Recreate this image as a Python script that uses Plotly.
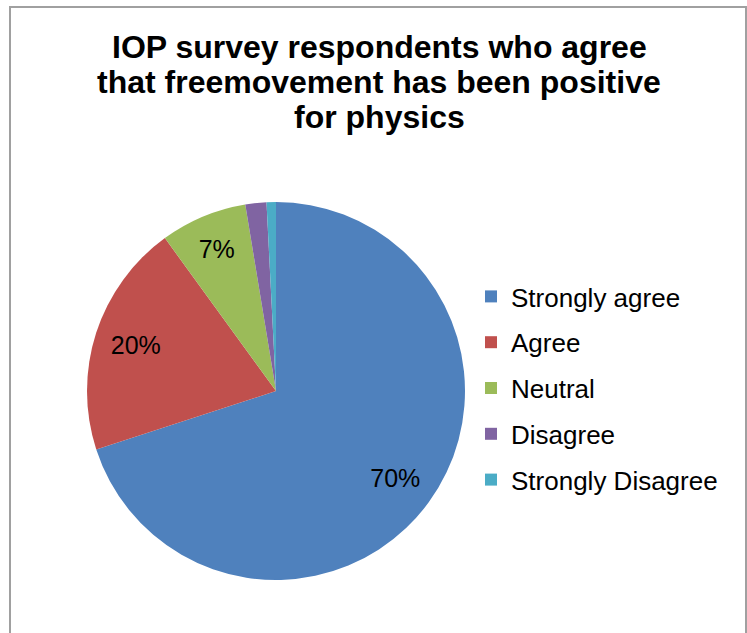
import plotly.graph_objects as go

# Survey responses (share of respondents)
categories = ["Strongly agree", "Agree", "Neutral", "Disagree", "Strongly Disagree"]
shares = [70, 20, 7.4, 1.8, 0.8]
colors = ["#4F81BD", "#C0504D", "#9BBB59", "#8064A2", "#4BACC6"]
show_label = [True, True, True, False, False]

title_lines = [
    "IOP survey respondents who agree",
    "that freemovement has been positive",
    "for physics",
]

W, H = 747, 633
FONT = "Liberation Sans, Arial, sans-serif"
PIE_DOMAIN = dict(x=[87 / W, 465 / W], y=[1 - 580 / H, 1 - 202 / H])

fig = go.Figure()

# Filled slices
fig.add_trace(go.Pie(
    labels=categories,
    values=shares,
    sort=False,
    direction="clockwise",
    rotation=0,
    marker=dict(colors=colors, line=dict(width=0)),
    textinfo="none",
    hoverinfo="label+percent",
    showlegend=False,
    domain=PIE_DOMAIN,
))

# Transparent ring on top carrying the percentage labels, so they sit
# out toward the rim of each slice
fig.add_trace(go.Pie(
    labels=categories,
    values=shares,
    sort=False,
    direction="clockwise",
    rotation=0,
    hole=0.56,
    marker=dict(colors=["rgba(0,0,0,0)"] * len(categories), line=dict(width=0)),
    texttemplate=["%{percent:.0%}" if s else "" for s in show_label],
    textposition="inside",
    insidetextorientation="horizontal",
    insidetextfont=dict(family=FONT, size=25, color="#000000"),
    hoverinfo="skip",
    showlegend=False,
    domain=PIE_DOMAIN,
))

# Legend entries, one group each so the gap between rows can be set
for name, col in zip(categories, colors):
    fig.add_trace(go.Scatter(
        x=[None], y=[None], mode="markers", name=name,
        legendgroup=name,
        marker=dict(symbol="square", size=12, color=col),
        showlegend=True, hoverinfo="skip",
    ))

title_y = [47, 82, 117]
for line, py in zip(title_lines, title_y):
    fig.add_annotation(
        text=f"<b>{line}</b>", x=379 / W, y=1 - py / H,
        xref="paper", yref="paper", xanchor="center", yanchor="middle",
        showarrow=False, font=dict(family=FONT, size=32, color="#000000"),
    )

# Chart frame
fig.add_shape(type="rect", xref="paper", yref="paper",
              x0=10 / W, x1=746 / W, y0=-0.05, y1=1 - 7 / H,
              line=dict(color="#a0a0a0", width=2), fillcolor="rgba(0,0,0,0)")

fig.update_layout(
    width=W, height=H,
    margin=dict(l=0, r=0, t=0, b=0),
    paper_bgcolor="white", plot_bgcolor="white",
    xaxis=dict(visible=False), yaxis=dict(visible=False),
    legend=dict(
        x=471 / W, y=1 - 273 / H, xanchor="left", yanchor="top",
        font=dict(family=FONT, size=26, color="#000000"),
        tracegroupgap=9, itemsizing="trace",
        bgcolor="rgba(0,0,0,0)",
    ),
)

fig.write_html("out.html")
